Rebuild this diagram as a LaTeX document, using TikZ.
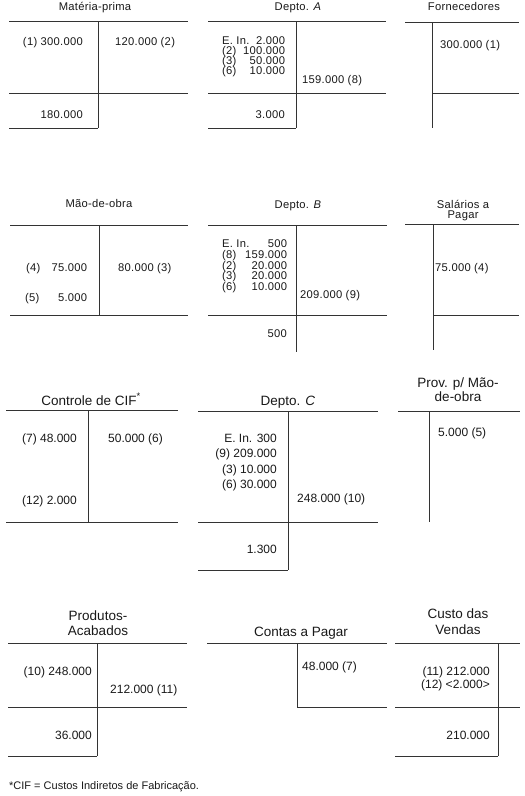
\documentclass[tikz,border=0pt]{standalone}
\usepackage{fontspec}
\setmainfont{Liberation Sans}
\newfontfamily\spacedsans[LetterSpace=2.5]{Liberation Sans}
\newcommand\rowAfont{\spacedsans\fontsize{11.2}{12}\selectfont}
\newcommand\rowBfont{\fontsize{12}{14}\selectfont}
\newcommand\rowBtitle{\fontsize{13.5}{15}\selectfont}
\newcommand\notefont{\fontsize{11}{13}\selectfont}
\begin{document}
\begin{tikzpicture}[x=1pt,y=-1pt,
  tline/.style={line width=1pt, draw=black!80},
  tA/.style={inner sep=0pt, font=\rowAfont, anchor=base, text=black!90},
  vA/.style={inner sep=0pt, font=\rowAfont, text=black!90},
  tB/.style={inner sep=0pt, font=\rowBtitle, anchor=base, text=black!90},
  vB/.style={inner sep=0pt, font=\rowBfont, text=black!90}]
\useasboundingbox (0,0) rectangle (525,796);

% ---------------- Row 1 ----------------
% Materia-prima
\node[tA] (mpT) at (95,10.5) {Matéria-prima};
\draw[tline] (9,21) -- (188,21) (98,21) -- (98,128) (9,93) -- (188,93) (9,128) -- (98,128);
\node[vA, anchor=base east] (mpD) at (83,45.5) {(1) 300.000};
\node[vA, anchor=base west] (mpC) at (115,45.5) {120.000 (2)};
\node[vA, anchor=base east] (mpS) at (83,118) {180.000};

% Depto A
\node[tA] (daT) at (298,10.5) {Depto. \textit{A}};
\draw[tline] (208,21) -- (386,21) (296,21) -- (296,128) (208,93) -- (386,93) (208,128) -- (296,128);
\node[vA, anchor=base west] (daD1) at (222,44.5) {\makebox[63pt]{E. In.\hfill 2.000}};
\node[vA, anchor=base west] (daD2) at (222,54.5) {\makebox[63pt]{(2)\hfill 100.000}};
\node[vA, anchor=base west] (daD3) at (222,64.5) {\makebox[63pt]{(3)\hfill 50.000}};
\node[vA, anchor=base west] (daD4) at (222,74.5) {\makebox[63pt]{(6)\hfill 10.000}};
\node[vA, anchor=base west] (daC) at (302,83) {159.000 (8)};
\node[vA, anchor=base east] (daS) at (285,118) {3.000};

% Fornecedores
\node[tA] (foT) at (464,10.5) {Fornecedores};
\draw[tline] (405,22) -- (519,22) (432,22) -- (432,128) (432,93) -- (519,93);
\node[vA, anchor=base west] (foC) at (440,48) {300.000 (1)};

% ---------------- Row 2 ----------------
% Mao-de-obra
\node[tA] (moT) at (99,207) {Mão-de-obra};
\draw[tline] (10,225) -- (188,225) (99,225) -- (99,315) (10,315) -- (188,315);
\node[vA, anchor=base west] (moD1) at (26,271) {\makebox[61pt]{(4)\hfill 75.000}};
\node[vA, anchor=base west] (moD2) at (25,301.5) {\makebox[62pt]{(5)\hfill 5.000}};
\node[vA, anchor=base west] (moC) at (118,271) {80.000 (3)};

% Depto B
\node[tA] (dbT) at (298,208) {Depto. \textit{B}};
\draw[tline] (208,225) -- (387,225) (296,225) -- (296,352) (208,315) -- (387,315);
\node[vA, anchor=base west] (dbD1) at (222,247.5) {\makebox[65pt]{E. In.\hfill 500}};
\node[vA, anchor=base west] (dbD2) at (222,258) {\makebox[65pt]{(8)\hfill 159.000}};
\node[vA, anchor=base west] (dbD3) at (222,269) {\makebox[65pt]{(2)\hfill 20.000}};
\node[vA, anchor=base west] (dbD4) at (222,279.5) {\makebox[65pt]{(3)\hfill 20.000}};
\node[vA, anchor=base west] (dbD5) at (222,290) {\makebox[65pt]{(6)\hfill 10.000}};
\node[vA, anchor=base west] (dbC) at (300,298) {209.000 (9)};
\node[vA, anchor=base east] (dbS) at (287,337) {500};

% Salarios a Pagar
\node[tA] (spT1) at (463,208) {Salários a};
\node[tA] (spT2) at (463,218.5) {Pagar};
\draw[tline] (405,224) -- (519,224) (433,224) -- (433,350) (433,315) -- (519,315);
\node[vA, anchor=base west] (spC) at (435,271) {75.000 (4)};

% ---------------- Row 3 ----------------
% Controle de CIF
\node[tB] (ciT) at (91,405) {Controle de CIF\textsuperscript{*}};
\draw[tline] (6,410) -- (178,410) (88,410) -- (88,522) (6,522) -- (178,522);
\node[vB, anchor=base east] (ciD1) at (77,442) {(7) 48.000};
\node[vB, anchor=base east] (ciD2) at (77,504) {(12) 2.000};
\node[vB, anchor=base west] (ciC) at (108,442) {50.000 (6)};

% Depto C
\node[tB] (dcT) at (288,405) {Depto. \textit{C}};
\draw[tline] (198,411) -- (378,411) (288,411) -- (288,570) (198,522) -- (378,522) (198,570) -- (288,570);
\node[vB, anchor=base east] (dcD1) at (277,442) {E. In. 300};
\node[vB, anchor=base east] (dcD2) at (277,457.5) {(9) 209.000};
\node[vB, anchor=base east] (dcD3) at (277,473) {(3) 10.000};
\node[vB, anchor=base east] (dcD4) at (277,488.5) {(6) 30.000};
\node[vB, anchor=base west] (dcC) at (297,502) {248.000 (10)};
\node[vB, anchor=base east] (dcS) at (277,553) {1.300};

% Prov. p/ Mao-de-obra
\node[tB] (pvT1) at (458,387) {Prov. p/ Mão-};
\node[tB] (pvT2) at (458,401) {de-obra};
\draw[tline] (398,411) -- (520,411) (429,411) -- (429,522);
\node[vB, anchor=base west] (pvC) at (438,436) {5.000 (5)};

% ---------------- Row 4 ----------------
% Produtos Acabados
\node[tB] (paT1) at (98,620) {Produtos-};
\node[tB] (paT2) at (98,635) {Acabados};
\draw[tline] (8,643) -- (187,643) (97,643) -- (97,756) (8,707) -- (187,707) (8,756) -- (97,756);
\node[vB, anchor=base east] (paD) at (92,675) {(10) 248.000};
\node[vB, anchor=base west] (paC) at (110,693) {212.000 (11)};
\node[vB, anchor=base east] (paS) at (92,739) {36.000};

% Contas a Pagar
\node[tB] (cpT) at (301,636) {Contas a Pagar};
\draw[tline] (207,643) -- (387,643) (297,643) -- (297,707) (297,707) -- (387,707);
\node[vB, anchor=base west] (cpC) at (302,670) {48.000 (7)};

% Custo das Vendas
\node[tB] (cvT1) at (458,618) {Custo das};
\node[tB] (cvT2) at (458,634) {Vendas};
\draw[tline] (395,643) -- (520,643) (498,643) -- (498,756) (395,707) -- (520,707) (395,756) -- (498,756);
\node[vB, anchor=base east] (cvD1) at (490,675) {(11) 212.000};
\node[vB, anchor=base east] (cvD2) at (490,688.5) {(12) <2.000>};
\node[vB, anchor=base east] (cvS) at (490,739) {210.000};

% Footnote
\node[inner sep=0pt, font=\notefont, anchor=base west, text=black!90] (note) at (9,789) {*CIF = Custos Indiretos de Fabricação.};
\end{tikzpicture}
\end{document}
